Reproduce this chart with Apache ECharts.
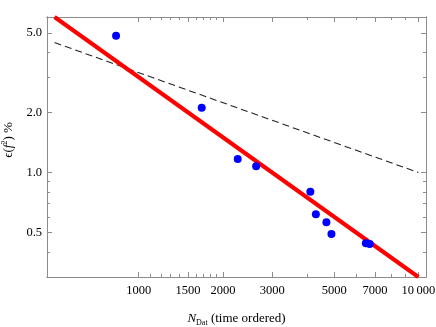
<!DOCTYPE html>
<html>
<head>
<meta charset="utf-8">
<script src="https://cdn.jsdelivr.net/npm/echarts@6/dist/echarts.min.js"></script>
<style>
html, body { margin: 0; padding: 0; background: #fff; }
#chart { width: 436px; height: 327px; }
</style>
</head>
<body>
<div id="chart"></div>
<script>
// measured points
const nDat = [830, 1680, 2260, 2630, 4110, 4300, 4690, 4890, 6490, 6700];
const epsVal = [4.83, 2.11, 1.17, 1.075, 0.80, 0.618, 0.564, 0.493, 0.443, 0.439];
// red fit line and dashed reference line
const fitN = [500, 10000];
const fitEps = [6.0, 0.3];
const refN = [500, 10000];
const refEps = [4.47, 1.0];
// ticks
const xMajor = [1000, 1500, 2000, 3000, 5000, 7000, 10000];
const xMinor = [1100, 1200, 1300, 1400, 1600, 1700, 1800, 1900, 4000, 6000, 8000, 9000];
const yMajor = [0.5, 1.0, 2.0, 5.0];
const yMinor = [0.4, 0.6, 0.7, 0.8, 0.9, 3.0, 4.0];

const axisColor = "#8c8c8c"
const font = "Liberation Serif"

let myChart = echarts.init(document.getElementById("chart"))

function xAx(pos, ticks, len, withLabels) {
  return {
    type: "log",
    logBase: 10,
    min: 470,
    max: 10650,
    position: pos,
    axisLine: { show: true, lineStyle: { color: axisColor, width: 1 } },
    axisTick: { show: true, inside: true, length: len, customValues: ticks, lineStyle: { color: axisColor } },
    axisLabel: withLabels
      ? {
          show: true,
          customValues: ticks,
          margin: 7,
          color: "#000",
          fontFamily: font,
          fontSize: 12.5,
          formatter: (v) => (v === 10000 ? "10\u2009000" : String(v)),
        }
      : { show: false },
    splitLine: { show: false },
    minorTick: { show: false },
  }
}

function yAx(pos, ticks, len, withLabels) {
  return {
    type: "log",
    logBase: 10,
    min: 0.3,
    max: 6,
    position: pos,
    axisLine: { show: true, lineStyle: { color: axisColor, width: 1 } },
    axisTick: { show: true, inside: true, length: len, customValues: ticks, lineStyle: { color: axisColor } },
    axisLabel: withLabels
      ? {
          show: true,
          customValues: ticks,
          margin: 5,
          color: "#000",
          fontFamily: font,
          fontSize: 12.5,
          formatter: (v) => v.toFixed(1),
        }
      : { show: false },
    splitLine: { show: false },
    minorTick: { show: false },
  }
}

let xAxes = [xAx("bottom", xMajor, 5, true), xAx("bottom", xMinor, 3, false), xAx("top", xMajor, 5, false), xAx("top", xMinor, 3, false)]
xAxes[0].name = "{n|N}{s|Dat}{t| (time ordered)}"
xAxes[0].nameLocation = "middle"
xAxes[0].nameGap = 34
xAxes[0].nameTextStyle = {
  rich: {
    n: { fontFamily: font, fontSize: 13, fontStyle: "italic", color: "#000", lineHeight: 16 },
    s: { fontFamily: font, fontSize: 8, color: "#000", verticalAlign: "bottom", lineHeight: 10 },
    t: { fontFamily: font, fontSize: 13, color: "#000", lineHeight: 16 },
  },
}

let yAxes = [yAx("left", yMajor, 5, true), yAx("left", yMinor, 3, false), yAx("right", yMajor, 5, false), yAx("right", yMinor, 3, false)]
yAxes[0].name = "{e|\u03f5(}{i|f}{s|2}{e|) %}"
yAxes[0].nameLocation = "middle"
yAxes[0].nameRotate = 90
yAxes[0].nameGap = 28
yAxes[0].nameTextStyle = {
  padding: [0, 0, 0, 14],
  rich: {
    e: { fontFamily: font, fontSize: 13, color: "#000", lineHeight: 16 },
    i: { fontFamily: font, fontSize: 13, fontStyle: "italic", color: "#000", lineHeight: 16 },
    s: { fontFamily: font, fontSize: 8, color: "#000", verticalAlign: "top", lineHeight: 10 },
  },
}

myChart.setOption({
  animation: false,
  backgroundColor: "#fff",
  grid: { left: 47, right: 10, top: 17, bottom: 50, containLabel: false, outerBoundsMode: "none" },
  xAxis: xAxes,
  yAxis: yAxes,
  series: [
    {
      type: "line",
      data: refN.map((n, i) => [n, refEps[i]]),
      showSymbol: false,
      lineStyle: { color: "#222", width: 1.1, type: [7, 4] },
      z: 2,
    },
    {
      type: "line",
      data: fitN.map((n, i) => [n, fitEps[i]]),
      showSymbol: false,
      lineStyle: { color: "#ff0000", width: 4 },
      z: 3,
    },
    {
      type: "scatter",
      data: nDat.map((n, i) => [n, epsVal[i]]),
      symbolSize: 8,
      itemStyle: { color: "#0000ff", opacity: 1 },
      z: 4,
    },
  ],
})
</script>
</body>
</html>
